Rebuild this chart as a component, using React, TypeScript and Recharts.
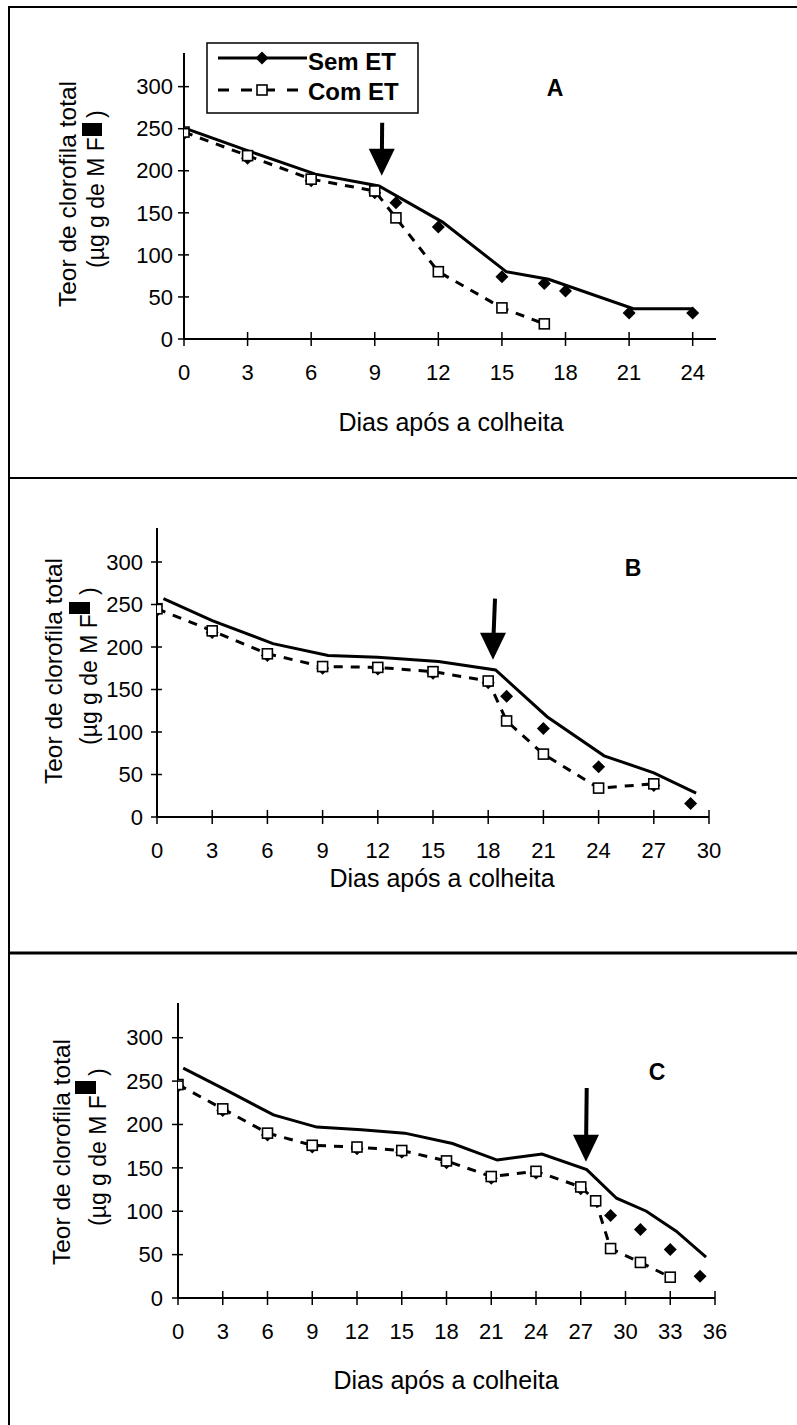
import React from 'react';
import { ComposedChart, Line, Scatter, XAxis, YAxis, ReferenceLine, ReferenceDot } from 'recharts';

const FONT = '"Liberation Sans", Arial, Helvetica, sans-serif';

// ---------- Panel A ----------
const daysComA = [0, 3, 6, 9, 10, 12, 15, 17];
const comA = [246, 218, 190, 176, 144, 80, 37, 18];
const daysSemA = [0, 3, 6, 9, 10, 12, 15, 17, 18, 21, 24];
const semA = [244, 215, 188, 174, 162, 133, 74, 66, 57, 31, 31];
const daysTrendA = [0, 3, 6.2, 9.2, 12.2, 15.2, 17.2, 21.2, 24];
const trendA = [251, 224, 196, 182, 139, 80, 71, 36, 36];
const ticksA = [0, 3, 6, 9, 12, 15, 18, 21, 24];

// ---------- Panel B ----------
const daysComB = [0, 3, 6, 9, 12, 15, 18, 19, 21, 24, 27];
const comB = [245, 219, 192, 177, 176, 171, 160, 113, 74, 34, 39];
const daysSemB = [0, 3, 6, 9, 12, 15, 18, 19, 21, 24, 27, 29];
const semB = [243, 217, 190, 175, 174, 169, 158, 142, 104, 59, 37, 16];
const daysTrendB = [0.35, 3, 6.3, 9.3, 12, 15.3, 18.4, 21.2, 24.3, 27, 29.3];
const trendB = [257, 231, 204, 190, 188, 183, 173, 118, 72, 52, 28];
const ticksB = [0, 3, 6, 9, 12, 15, 18, 21, 24, 27, 30];

// ---------- Panel C ----------
const daysComC = [0, 3, 6, 9, 12, 15, 18, 21, 24, 27, 28, 29, 31, 33];
const comC = [246, 218, 190, 176, 174, 170, 158, 140, 146, 128, 112, 57, 41, 24];
const daysSemC = [0, 3, 6, 9, 12, 15, 18, 21, 24, 27, 29, 31, 33, 35];
const semC = [244, 216, 188, 174, 172, 168, 156, 138, 144, 126, 95, 79, 56, 25];
const daysTrendC = [0.35, 3.3, 6.4, 9.3, 12.3, 15.2, 18.4, 21.4, 24.4, 27.4, 29.4, 31.4, 33.4, 35.4];
const trendC = [265, 239, 211, 197, 194, 190, 178, 159, 166, 148, 115, 100, 77, 47];
const ticksC = [0, 3, 6, 9, 12, 15, 18, 21, 24, 27, 30, 33, 36];

const yTicks = [0, 50, 100, 150, 200, 250, 300];
const yMax = 340;

// arrows: [tipDay, tipValue, topDay, topValue]
const arrowA = [9.33, 194, 9.35, 257];
const arrowB = [18.26, 185, 18.37, 257];
const arrowC = [27.35, 157, 27.4, 242];

const zip = (xs: number[], ys: number[]) => xs.map((x, i) => ({ x, y: ys[i] }));

const panels = [
  {
    key: 'A', top: 0, height: 478, axisX: 184, plotTop: 53, axisY: 339, plotRight: 716, xMax: 25.1, gap: 11,
    com: zip(daysComA, comA), sem: zip(daysSemA, semA), trend: zip(daysTrendA, trendA), ticks: ticksA, arrow: arrowA,
  },
  {
    key: 'B', top: 478, height: 475, axisX: 157, plotTop: 50, axisY: 339, plotRight: 709, xMax: 30, gap: 14,
    com: zip(daysComB, comB), sem: zip(daysSemB, semB), trend: zip(daysTrendB, trendB), ticks: ticksB, arrow: arrowB,
  },
  {
    key: 'C', top: 953, height: 472, axisX: 178, plotTop: 50, axisY: 345, plotRight: 715, xMax: 36, gap: 15,
    com: zip(daysComC, comC), sem: zip(daysSemC, semC), trend: zip(daysTrendC, trendC), ticks: ticksC, arrow: arrowC,
  },
];

const Y_AXIS_W = 60;
const X_AXIS_H = 60;
const TICK_FS = 22;

const XTick = (props: any) => {
  const { x, y, payload } = props;
  return (
    <g>
      <line x1={x} y1={y - 7} x2={x} y2={y + 7} stroke="#000" strokeWidth={1.5} />
      <text x={x} y={y + 33} dy="0.35em" textAnchor="middle" fontSize={TICK_FS} fontFamily={FONT} fill="#000">
        {payload.value}
      </text>
    </g>
  );
};

const makeYTick = (gap: number) => (props: any) => {
  const { x, y, payload } = props;
  return (
    <g>
      <line x1={x - 6} y1={y} x2={x + 5} y2={y} stroke="#000" strokeWidth={1.5} />
      <text x={x - gap} y={y} dy="0.35em" textAnchor="end" fontSize={TICK_FS} fontFamily={FONT} fill="#000">
        {payload.value}
      </text>
    </g>
  );
};

const Diamond = (props: any) => {
  const { cx, cy } = props;
  if (cx == null || cy == null) return null;
  const r = 6.5;
  return <polygon points={`${cx},${cy - r} ${cx + r},${cy} ${cx},${cy + r} ${cx - r},${cy}`} fill="#000" />;
};

const SquareDot = (props: any) => {
  const { cx, cy, index } = props;
  if (cx == null || cy == null) return null;
  return <rect key={`sq-${index}`} x={cx - 5} y={cy - 5} width={10} height={10} fill="#fff" stroke="#000" strokeWidth={1.6} />;
};

const ArrowHead = (props: any) => {
  const { cx, cy } = props;
  if (cx == null || cy == null) return null;
  return <polygon points={`${cx - 13},${cy - 27} ${cx + 13},${cy - 27} ${cx},${cy}`} fill="#000" />;
};

const Panel = ({ p }: { p: any }) => (
  <div style={{ position: 'absolute', left: 0, top: p.top, width: 797, height: p.height }}>
    <ComposedChart
      width={797}
      height={p.height}
      margin={{
        top: p.plotTop,
        left: p.axisX - Y_AXIS_W,
        right: 797 - p.plotRight,
        bottom: p.height - p.axisY - X_AXIS_H,
      }}
    >
      <XAxis
        type="number"
        dataKey="x"
        domain={[0, p.xMax]}
        ticks={p.ticks}
        interval={0}
        height={X_AXIS_H}
        tickSize={0}
        tickMargin={0}
        tickLine={false}
        axisLine={{ stroke: '#000', strokeWidth: 2 }}
        tick={<XTick />}
        allowDataOverflow
      />
      <YAxis
        type="number"
        dataKey="y"
        domain={[0, yMax]}
        ticks={yTicks}
        interval={0}
        width={Y_AXIS_W}
        tickSize={0}
        tickMargin={0}
        tickLine={false}
        axisLine={{ stroke: '#000', strokeWidth: 2 }}
        tick={makeYTick(p.gap)}
        allowDataOverflow
      />
      <Line
        data={p.trend}
        dataKey="y"
        type="linear"
        stroke="#000"
        strokeWidth={3}
        dot={false}
        activeDot={false}
        isAnimationActive={false}
      />
      <Scatter data={p.sem} dataKey="y" shape={<Diamond />} isAnimationActive={false} />
      <Line
        data={p.com}
        dataKey="y"
        type="linear"
        stroke="#000"
        strokeWidth={3}
        strokeDasharray="9 8"
        dot={SquareDot}
        activeDot={false}
        isAnimationActive={false}
      />
      <ReferenceLine
        segment={[{ x: p.arrow[2], y: p.arrow[3] }, { x: p.arrow[0], y: p.arrow[1] + 12 }]}
        stroke="#000"
        strokeWidth={4}
      />
      <ReferenceDot x={p.arrow[0]} y={p.arrow[1]} r={0} shape={<ArrowHead />} />
    </ComposedChart>
  </div>
);

const yLabels = [
  { l1x: 76, l1y: 194, l2x: 104, l2y: 268, box: [82, 123, 20, 13] },
  { l1x: 62, l1y: 671, l2x: 97, l2y: 745, box: [69, 602, 21, 12] },
  { l1x: 70, l1y: 1152, l2x: 106, l2y: 1226, box: [75, 1081, 21, 13] },
];
const xTitles = [
  { x: 451, y: 422 },
  { x: 442, y: 878 },
  { x: 446, y: 1380 },
];
const letters = [
  { t: 'A', x: 555, y: 88 },
  { t: 'B', x: 633, y: 568 },
  { t: 'C', x: 657, y: 1072 },
];

export default function App() {
  return (
    <div style={{ position: 'absolute', left: 0, top: 0, width: 797, height: 1425, background: '#fff', overflow: 'hidden' }}>
      {panels.map((p) => (
        <Panel key={p.key} p={p} />
      ))}
      <svg
        width={797}
        height={1425}
        style={{ position: 'absolute', left: 0, top: 0, pointerEvents: 'none' }}
        fontFamily={FONT}
      >
        {/* frame */}
        <line x1={9} y1={7} x2={797} y2={7} stroke="#000" strokeWidth={2} />
        <line x1={9} y1={478} x2={797} y2={478} stroke="#000" strokeWidth={2} />
        <line x1={9} y1={953} x2={797} y2={953} stroke="#000" strokeWidth={3} />
        <line x1={9} y1={6} x2={9} y2={1425} stroke="#000" strokeWidth={2} />

        {yLabels.map((l, i) => (
          <g key={`yl-${i}`}>
            <text
              x={l.l1x}
              y={l.l1y}
              transform={`rotate(-90 ${l.l1x} ${l.l1y})`}
              textAnchor="middle"
              fontSize={24.5}
              fill="#000"
            >
              Teor de clorofila total
            </text>
            <text
              x={l.l2x}
              y={l.l2y}
              transform={`rotate(-90 ${l.l2x} ${l.l2y})`}
              textAnchor="start"
              fontSize={23}
              fill="#000"
              style={{ whiteSpace: 'pre' }}
            >
              {'(µg g de M F   )'}
            </text>
            <rect x={l.box[0]} y={l.box[1]} width={l.box[2]} height={l.box[3]} fill="#000" />
          </g>
        ))}

        {xTitles.map((t, i) => (
          <text key={`xt-${i}`} x={t.x} y={t.y} dy="0.35em" textAnchor="middle" fontSize={25} fill="#000">
            Dias após a colheita
          </text>
        ))}

        {letters.map((t) => (
          <text key={t.t} x={t.x} y={t.y} dy="0.35em" textAnchor="middle" fontSize={23} fontWeight="bold" fill="#000">
            {t.t}
          </text>
        ))}

        {/* legend */}
        <rect x={207} y={43} width={211} height={70} fill="#fff" stroke="#000" strokeWidth={1.5} />
        <line x1={218} y1={58} x2={307} y2={58} stroke="#000" strokeWidth={3} />
        <polygon points="262,51.5 268.5,58 262,64.5 255.5,58" fill="#000" />
        <text x={308} y={70} fontSize={24} fontWeight="bold" fill="#000">Sem ET</text>
        <line x1={218} y1={90} x2={307} y2={90} stroke="#000" strokeWidth={3} strokeDasharray="11 12" />
        <rect x={257} y={85} width={10} height={10} fill="#fff" stroke="#000" strokeWidth={1.6} />
        <text x={308} y={100} fontSize={24} fontWeight="bold" fill="#000">Com ET</text>
      </svg>
    </div>
  );
}
